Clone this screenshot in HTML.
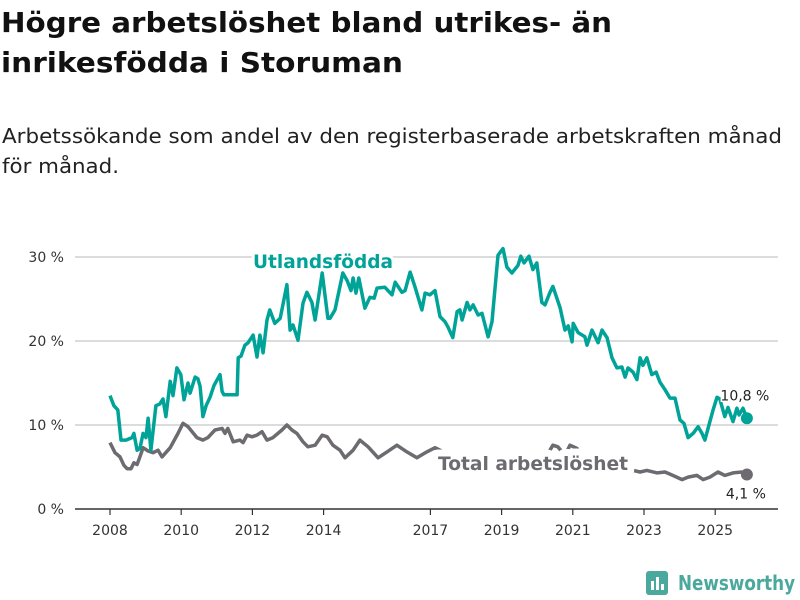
<!DOCTYPE html>
<html><head><meta charset="utf-8"><style>
body{margin:0;background:#fff;}
svg{display:block;font-family:"DejaVu Sans","Liberation Sans",sans-serif;}
</style></head><body>
<svg id="chart" width="800" height="600">
<text x="1" y="32" font-size="28" font-weight="bold" fill="#111" textLength="611" lengthAdjust="spacingAndGlyphs">Högre arbetslöshet bland utrikes- än</text>
<text x="1" y="72" font-size="28" font-weight="bold" fill="#111" textLength="402" lengthAdjust="spacingAndGlyphs">inrikesfödda i Storuman</text>
<text x="2" y="143" font-size="20" fill="#222" textLength="780" lengthAdjust="spacingAndGlyphs">Arbetssökande som andel av den registerbaserade arbetskraften månad</text>
<text x="2" y="173" font-size="20" fill="#222" textLength="117" lengthAdjust="spacingAndGlyphs">för månad.</text>
<g id="grid"></g><g id="xaxis"></g><g id="lines"></g><g id="labels"></g>
<g>
<rect x="646" y="571" width="22" height="24" rx="3" fill="#4aa89c"/>
<rect x="651" y="581" width="3" height="9" fill="#fff"/><rect x="656" y="577" width="3" height="13" fill="#fff"/><rect x="661" y="584" width="3" height="6" fill="#fff"/>
<text x="678" y="590" font-size="20" font-weight="bold" fill="#4aa89c" textLength="117" lengthAdjust="spacingAndGlyphs">Newsworthy</text>
</g>
</svg>
<script>
const fbYears=[2008.00,2008.11,2008.22,2008.31,2008.45,2008.62,2008.67,2008.76,2008.84,2008.93,2009.01,2009.07,2009.15,2009.29,2009.40,2009.49,2009.57,2009.69,2009.77,2009.88,2009.99,2010.08,2010.19,2010.25,2010.39,2010.47,2010.53,2010.61,2010.70,2010.81,2010.92,2011.09,2011.15,2011.20,2011.57,2011.60,2011.68,2011.79,2011.88,2012.02,2012.13,2012.21,2012.30,2012.41,2012.49,2012.63,2012.78,2012.97,2013.06,2013.14,2013.28,2013.42,2013.53,2013.67,2013.76,2013.96,2014.12,2014.18,2014.32,2014.54,2014.66,2014.77,2014.83,2014.91,2014.99,2015.16,2015.30,2015.42,2015.50,2015.72,2015.92,2016.01,2016.20,2016.29,2016.43,2016.57,2016.76,2016.85,2016.99,2017.13,2017.27,2017.41,2017.49,2017.63,2017.75,2017.83,2017.89,2018.03,2018.11,2018.20,2018.34,2018.45,2018.62,2018.73,2018.90,2019.04,2019.15,2019.29,2019.46,2019.54,2019.63,2019.77,2019.88,2019.99,2020.13,2020.22,2020.36,2020.44,2020.64,2020.78,2020.87,2020.98,2021.01,2021.15,2021.34,2021.40,2021.54,2021.62,2021.71,2021.82,2021.96,2022.10,2022.24,2022.38,2022.47,2022.55,2022.69,2022.80,2022.89,2022.97,2023.08,2023.22,2023.34,2023.45,2023.59,2023.73,2023.87,2024.01,2024.12,2024.24,2024.38,2024.52,2024.63,2024.71,2024.85,2024.94,2025.05,2025.13,2025.27,2025.36,2025.50,2025.61,2025.67,2025.78,2025.89];
const fbValues=[13.5,12.3,11.8,8.2,8.2,8.5,9.0,7.0,7.2,9.0,8.5,10.8,7.0,12.3,12.5,13.1,11.0,15.2,13.5,16.8,16.0,13.0,15.0,13.8,15.7,15.5,14.6,11.0,12.3,13.3,14.7,16.0,14.0,13.6,13.6,18.0,18.2,19.5,19.8,20.7,18.1,20.7,18.6,22.5,23.7,22.1,22.7,26.7,21.3,21.9,20.1,24.5,25.8,24.6,22.5,28.1,22.7,22.7,23.7,28.1,27.2,26.0,27.5,25.7,27.5,23.9,25.2,25.1,26.3,26.4,25.5,27.0,25.8,26.0,28.2,26.4,23.7,25.7,25.5,26.0,22.9,22.3,21.7,20.4,23.5,23.7,22.5,24.6,23.7,24.3,23.1,23.3,20.5,22.3,30.2,31.0,28.8,28.1,29.0,30.1,29.3,30.1,28.5,29.3,24.6,24.3,25.8,26.5,24.0,21.3,21.8,19.9,22.1,21.0,20.5,19.5,21.3,20.6,19.8,21.3,20.4,18.0,16.8,16.9,15.7,16.8,16.3,15.4,18.0,17.1,18.0,16.0,16.3,15.1,14.2,13.2,13.2,10.6,10.2,8.5,9.0,9.8,9.0,8.2,10.4,11.8,13.3,13.1,11.0,12.1,10.4,12.0,11.2,12.0,10.8];
const totYears=[2008.00,2008.14,2008.28,2008.39,2008.48,2008.59,2008.67,2008.76,2008.84,2008.93,2009.07,2009.21,2009.35,2009.46,2009.69,2009.91,2010.05,2010.19,2010.44,2010.61,2010.75,2010.95,2011.15,2011.23,2011.31,2011.46,2011.65,2011.74,2011.85,2011.99,2012.13,2012.27,2012.41,2012.58,2012.83,2012.97,2013.11,2013.25,2013.42,2013.56,2013.76,2013.96,2014.10,2014.26,2014.46,2014.60,2014.83,2015.02,2015.25,2015.53,2015.78,2016.06,2016.34,2016.62,2016.90,2017.13,2017.55,2018.11,2018.67,2019.10,2019.52,2019.94,2020.30,2020.44,2020.58,2020.78,2020.92,2021.12,2021.26,2021.62,2022.04,2022.47,2022.69,2022.89,2023.08,2023.37,2023.59,2023.81,2024.07,2024.24,2024.49,2024.66,2024.85,2025.08,2025.27,2025.50,2025.75,2025.89];
const totValues=[7.9,6.7,6.2,5.2,4.8,4.8,5.5,5.3,6.2,7.3,6.9,6.7,7.0,6.2,7.3,9.0,10.2,9.8,8.5,8.2,8.5,9.4,9.6,9.0,9.6,8.0,8.2,7.9,8.8,8.6,8.8,9.2,8.2,8.5,9.4,10.0,9.4,9.0,8.0,7.4,7.6,8.8,8.6,7.6,7.0,6.1,7.0,8.2,7.4,6.1,6.8,7.6,6.8,6.1,6.8,7.3,6.4,6.0,5.8,5.9,6.0,6.2,6.6,7.6,7.4,6.4,7.6,7.2,6.2,5.6,5.2,4.8,4.6,4.4,4.6,4.3,4.4,4.0,3.5,3.8,4.0,3.5,3.8,4.4,4.0,4.3,4.4,4.1];
const yTicks=[0,10,20,30];
const yTickLabels=["0 %","10 %","20 %","30 %"];
const xTicks=[2008,2010,2012,2014,2017,2019,2021,2023,2025];
const NS="http://www.w3.org/2000/svg";
const xs=y=>110+(y-2008)*35.6;
const ys=v=>509-v*8.4;
function mk(tag,attrs,parent){const e=document.createElementNS(NS,tag);for(const k in attrs)e.setAttribute(k,attrs[k]);document.getElementById(parent).appendChild(e);return e;}
yTicks.forEach((t,i)=>{
  if(t>0){const l=mk('line',{x1:75,x2:778,y1:ys(t),y2:ys(t),stroke:'#dcdcdc','stroke-width':2},'grid');
  
  }
  const tx=mk('text',{x:64,y:ys(t)+5,'text-anchor':'end','font-size':14,fill:'#333'},'grid');
  tx.textContent=yTickLabels[i];
  
  
});
const ax=mk('line',{x1:75,x2:778,y1:509,y2:509,stroke:'#333','stroke-width':1.5},'xaxis');


xTicks.forEach(t=>{
  const tk=mk('line',{x1:xs(t),x2:xs(t),y1:509,y2:515,stroke:'#333','stroke-width':1.2},'xaxis');
  
  
  const tx=mk('text',{x:xs(t),y:535,'text-anchor':'middle','font-size':14,fill:'#333'},'xaxis');
  tx.textContent=t;
  
  
});
function path(X,V){return X.map((x,i)=>(i?'L':'M')+xs(x).toFixed(1)+','+ys(V[i]).toFixed(1)).join('');}
const pt=mk('path',{d:path(totYears,totValues),fill:'none',stroke:'#6d6a70','stroke-width':3.5,'stroke-linejoin':'round'},'lines');


const pf=mk('path',{d:path(fbYears,fbValues),fill:'none',stroke:'#00a398','stroke-width':3.5,'stroke-linejoin':'round'},'lines');


const lf=fbYears.length-1, lt=totYears.length-1;
const d1=mk('circle',{cx:xs(fbYears[lf]),cy:ys(fbValues[lf]),r:6,fill:'#00a398'},'lines');


const d2=mk('circle',{cx:xs(totYears[lt]),cy:ys(totValues[lt]),r:6,fill:'#6d6a70'},'lines');


const e1=mk('text',{x:xs(fbYears[lf])-2,y:ys(fbValues[lf])-18,'text-anchor':'middle','font-size':14,fill:'#222',stroke:'#fff','stroke-width':3,'paint-order':'stroke'},'labels');
e1.textContent=fbValues[lf].toFixed(1).replace('.',',')+' %';


const e2=mk('text',{x:xs(totYears[lt])-1,y:ys(totValues[lt])+24,'text-anchor':'middle','font-size':14,fill:'#222'},'labels');
e2.textContent=totValues[lt].toFixed(1).replace('.',',')+' %';


const s1=mk('text',{x:253,y:268,'font-size':19,'font-weight':'bold',fill:'#00a398',stroke:'#fff','stroke-width':6,'paint-order':'stroke',textLength:140,lengthAdjust:'spacingAndGlyphs'},'labels');
s1.textContent='Utlandsfödda';


const s2=mk('text',{x:438,y:470,'font-size':19,'font-weight':'bold',fill:'#6d6a70',stroke:'#fff','stroke-width':14,'stroke-linejoin':'round','paint-order':'stroke',textLength:190,lengthAdjust:'spacingAndGlyphs'},'labels');
s2.textContent='Total arbetslöshet';


</script>
</body></html>
